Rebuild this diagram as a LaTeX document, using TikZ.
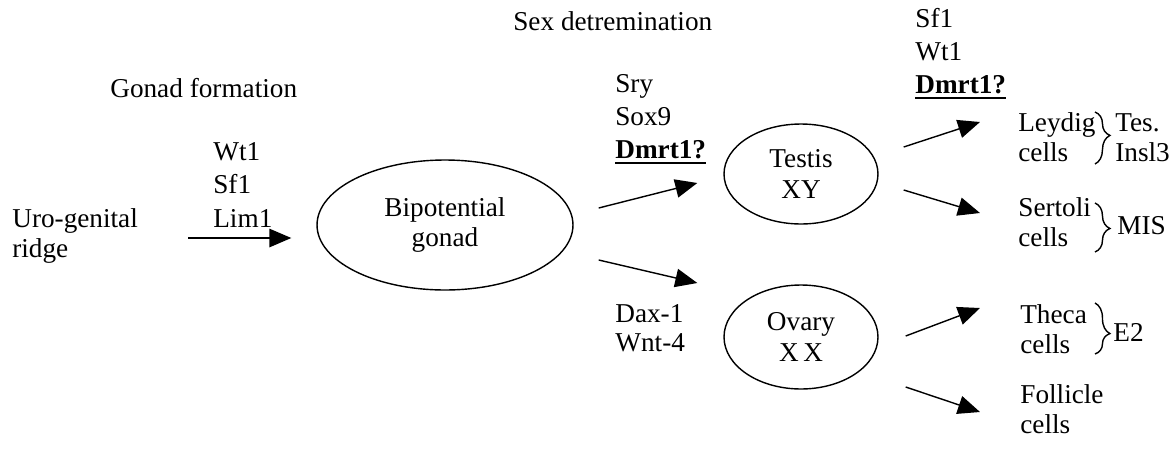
\documentclass[tikz,border=0pt]{standalone}
\usepackage{fontspec}
\setmainfont{Liberation Serif}
\usetikzlibrary{arrows.meta,decorations.pathreplacing,shapes.geometric}

\newsavebox{\genebox}
\newcommand{\ulgene}[1]{\sbox{\genebox}{\textbf{#1}}\usebox{\genebox}\llap{\rule[-3.5pt]{\wd\genebox}{1pt}}}

\tikzset{
    lbl/.style={anchor=base west, inner sep=0pt, align=left, font=\fontsize{15.5}{17}\selectfont},
    genes/.style={lbl, font=\fontsize{15.5}{18.5}\selectfont},
    gonad/.style={draw, ellipse, inner sep=0pt, line width=0.8pt, align=center, font=\fontsize{15.5}{17.5}\selectfont},
    arr/.style={line width=0.8pt, -{Triangle[length=0.44cm,width=0.37cm]}},
    brc/.style={decorate, decoration={brace, amplitude=8.5pt, aspect=#1}, line width=0.8pt},
}

\begin{document}
\begin{tikzpicture}[x=0.02cm, y=-0.02cm]
    \useasboundingbox (0,0) rectangle (1174,457);

    % headings
    \node[lbl] (sexdet) at (513,30) {Sex detremination};
    \node[lbl] (gonform) at (110,97) {Gonad formation};

    % gonads
    \node[lbl] (uro) at (12,257) {Uro-genital\\ridge};
    \node[gonad, minimum width=5.12cm, minimum height=2.6cm] (bip) at (445,225) {Bipotential\\gonad};
    \node[gonad, minimum width=3.08cm, minimum height=2.0cm] (testis) at (801,174) {Testis\\XY};
    \node[gonad, minimum width=3.08cm, minimum height=2.08cm] (ovary) at (801,337) {Ovary\\X\,X};

    % genes
    \node[genes, font=\fontsize{15.5}{18.8}\selectfont] (gform) at (213,227) {Wt1\\Sf1\\Lim1};
    \node[genes] (gmale) at (615,158) {Sry\\Sox9\\\ulgene{Dmrt1?}};
    \node[genes, font=\fontsize{15.5}{16}\selectfont] (gfemale) at (615,351) {Dax-1\\Wnt-4};
    \node[genes] (gtestis) at (915,93) {Sf1\\Wt1\\\ulgene{Dmrt1?}};

    % cells
    \node[lbl] (leydig) at (1018,161) {Leydig\\cells};
    \node[lbl] (sertoli) at (1018,246) {Sertoli\\cells};
    \node[lbl] (theca) at (1020,353) {Theca\\cells};
    \node[lbl] (follicle) at (1020,433) {Follicle\\cells};

    % products
    \node[lbl] (tes) at (1115,161) {Tes.\\Insl3};
    \node[lbl] (mis) at (1117,234) {MIS};
    \node[lbl] (e2) at (1113,341) {E2};

    \draw[brc=0.45] (1095,112) -- (1095,164);
    \draw[brc=0.52] (1095,203) -- (1095,252);
    \draw[brc=0.6] (1095,303) -- (1095,354);

    % arrows
    \draw[arr] ([shift={(176,-19)}]uro.base west) -- ([shift={(-25,13)}]bip.west);
    \draw[arr] ([shift={(25,-17)}]bip.east) -- ([shift={(-26,9)}]testis.west);
    \draw[arr] ([shift={(25,35)}]bip.east) -- ([shift={(-26,-54)}]ovary.west);
    \draw[arr] ([shift={(25,-27)}]testis.east) -- ([shift={(-38,-39)}]leydig.base west);
    \draw[arr] ([shift={(25,16)}]testis.east) -- ([shift={(-38,-33)}]sertoli.base west);
    \draw[arr] ([shift={(27,-1)}]ovary.east) -- ([shift={(-40,-45)}]theca.base west);
    \draw[arr] ([shift={(27,50)}]ovary.east) -- ([shift={(-40,-21)}]follicle.base west);
\end{tikzpicture}
\end{document}
